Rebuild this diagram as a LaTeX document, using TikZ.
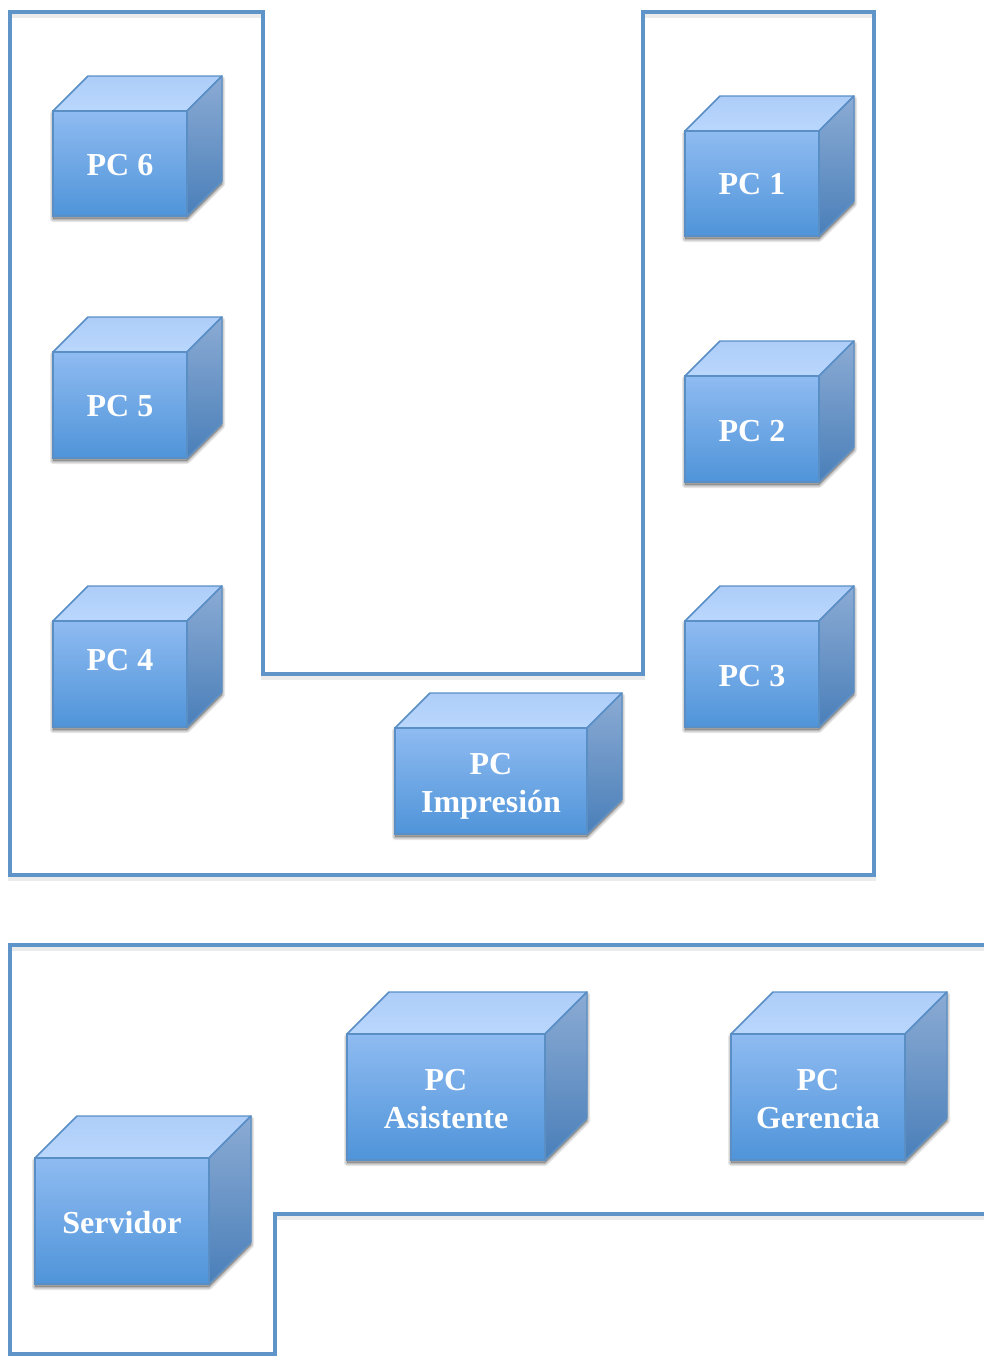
\documentclass[tikz,border=0pt]{standalone}
\usepackage{fontspec}
\setmainfont{Liberation Serif}
\usetikzlibrary{positioning}

\definecolor{wallblue}{HTML}{5F94C8}
\definecolor{edgeblue}{HTML}{5A8FC6}
\definecolor{fronttop}{HTML}{8FBBF1}
\definecolor{frontbottom}{HTML}{4F94D9}
\definecolor{lidback}{HTML}{ADCDF8}
\definecolor{lidfront}{HTML}{BAD7FD}
\definecolor{sidetop}{HTML}{8BABD4}
\definecolor{sidebottom}{HTML}{4A7FB9}

\tikzset{
  wall/.style={draw=wallblue, line width=3.5pt, line join=miter},
  wallshadow/.style={draw=black, opacity=0.08, line width=3.5pt},
  frontface/.style={draw=edgeblue, line width=1.1pt, rectangle, inner sep=0pt, top color=fronttop, bottom color=frontbottom},
  topface/.style={draw=edgeblue, line width=1.1pt, line join=round, top color=lidback, bottom color=lidfront},
  sideface/.style={draw=edgeblue, line width=1.1pt, line join=round, top color=sidetop, bottom color=sidebottom},
  cubeshadow/.style={fill=black, draw=black, opacity=0.09, line join=round},
  cubelabel/.style={font=\fontsize{24}{28.5}\selectfont\bfseries, text=white, align=center, inner sep=0pt}
}

\newcommand{\pccube}[8][]{%
  \foreach \spread in {4.5pt, 3pt, 1.5pt}
    \path [cubeshadow, line width=\spread]
      (#3,#4+3) -- (#3+#8,#4-#8+3) -- (#5+#8,#4-#8+3) -- (#5+#8,#6-#8+3) -- (#5,#6+3) -- (#3,#6+3) -- cycle;
  \path [topface] (#3,#4) -- (#3+#8,#4-#8) -- (#5+#8,#4-#8) -- (#5,#4) -- cycle;
  \path [sideface] (#5,#4) -- (#5+#8,#4-#8) -- (#5+#8,#6-#8) -- (#5,#6) -- cycle;
  \node (#2) [frontface, minimum width={(#5-#3)*0.75pt}, minimum height={(#6-#4)*0.75pt}] at ({(#3+#5)/2},{(#4+#6)/2}) {};
  \node (#2text) [cubelabel, yshift=-1.1pt, #1] at (#2.center) {#7};
}

\begin{document}
\begin{tikzpicture}[x=0.75pt, y=-0.75pt]
  \useasboundingbox (0,0) rectangle (984,1356);

  \draw [wallshadow, yshift=-2.5pt] (10,12) -- (263,12) -- (263,674) -- (643,674) -- (643,12) -- (874,12) -- (874,875) -- (10,875) -- cycle;
  \draw [wallshadow, yshift=-2.5pt] (984,945) -- (10,945) -- (10,1354) -- (275,1354) -- (275,1214) -- (984,1214);

  \draw [wall] (10,12) -- (263,12) -- (263,674) -- (643,674) -- (643,12) -- (874,12) -- (874,875) -- (10,875) -- cycle;
  \draw [wall] (984,945) -- (10,945) -- (10,1354) -- (275,1354) -- (275,1214) -- (984,1214);

  \pccube{pcsix}{53}{111}{187}{216}{PC 6}{35}
  \pccube{pcfive}{53}{352}{187}{458}{PC 5}{35}
  \pccube[yshift=11.7pt]{pcfour}{53}{621}{187}{727}{PC 4}{35}
  \pccube[yshift=0.7pt]{pcone}{685}{131}{819}{236}{PC 1}{35}
  \pccube[yshift=-0.8pt]{pctwo}{685}{376}{819}{482}{PC 2}{35}
  \pccube[yshift=-0.8pt]{pcthree}{685}{621}{819}{727}{PC 3}{35}
  \pccube[yshift=-3pt]{pcprint}{395}{728}{587}{834}{PC\\Impresión}{35}
  \pccube[yshift=-0.8pt]{pcassist}{347}{1034}{545}{1160}{PC\\Asistente}{42}
  \pccube[yshift=-0.8pt]{pcboss}{731}{1034}{905}{1160}{PC\\Gerencia}{42}
  \pccube{server}{35}{1158}{209}{1284}{Servidor}{42}
\end{tikzpicture}
\end{document}
